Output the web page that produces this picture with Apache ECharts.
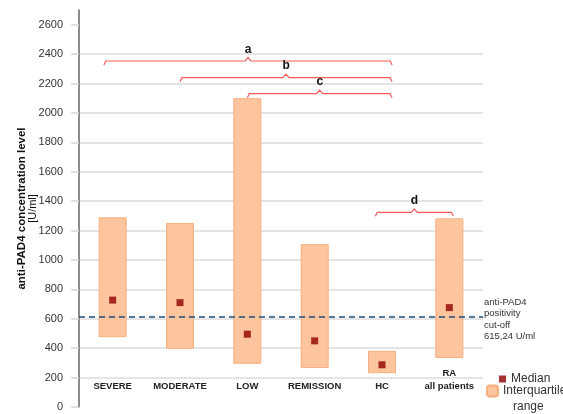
<!DOCTYPE html>
<html>
<head>
<meta charset="utf-8">
<script src="https://cdn.jsdelivr.net/npm/echarts@6/dist/echarts.min.js"></script>
<style>
  html, body { margin: 0; padding: 0; background: #fff; }
  #chart { width: 563px; height: 414px; }
</style>
</head>
<body>
<div id="chart"></div>
<script>
// anti-PAD4 concentration by disease activity group
const groups = ['SEVERE', 'MODERATE', 'LOW', 'REMISSION', 'HC', 'RA\nall patients'];
const q1 = [475, 396, 294, 265, 230, 333];          // lower quartile [U/ml]
const q3 = [1290, 1251, 2100, 1107, 382, 1283];     // upper quartile [U/ml]
const median = [727, 710, 495, 450, 287, 676];      // median [U/ml]
const cutoff = 615.24;                              // positivity cut-off [U/ml]
const yTicks = [0, 200, 400, 600, 800, 1000, 1200, 1400, 1600, 1800, 2000, 2200, 2400, 2600];

// significance brackets: letter, span in group positions, height [U/ml]
const bracketMarks = ['a', 'b', 'c', 'd'];
const bracketFrom = [-0.13, 1, 2, 3.9];
const bracketTo = [4.15, 4.15, 4.15, 5.06];
const bracketLevel = [2353, 2240, 2131, 1324];

const FONT = '"Liberation Sans", Arial, sans-serif';
const chart = echarts.init(document.getElementById('chart'), null, { renderer: 'canvas' });

const option = {
  animation: false,
  backgroundColor: '#fff',
  grid: { left: 79, right: 80, top: 10, bottom: 7, containLabel: false, outerBoundsMode: 'none' },
  xAxis: {
    type: 'category',
    data: groups,
    axisLine: { show: false },
    axisTick: { show: false },
    splitLine: { show: false },
    axisLabel: {
      interval: 0,
      margin: -14,
      verticalAlign: 'bottom',
      fontFamily: FONT,
      fontSize: 9.5,
      fontWeight: 'bold',
      lineHeight: 13,
      color: '#222'
    }
  },
  yAxis: {
    type: 'value',
    min: 0,
    max: 2700,
    interval: 200,
    name: '{b|anti-PAD4 concentration level}\n{n|[U/ml]}',
    nameLocation: 'middle',
    nameRotate: 90,
    nameGap: 41,
    nameMoveOverlap: false,
    nameTextStyle: {
      rich: {
        b: { fontFamily: FONT, fontSize: 11.5, fontWeight: 'bold', color: '#111', lineHeight: 11 },
        n: { fontFamily: FONT, fontSize: 11, color: '#111', lineHeight: 11 }
      }
    },
    axisLine: { show: true, lineStyle: { color: '#666', width: 1.5 } },
    axisTick: { show: true, length: 8, customValues: yTicks, lineStyle: { color: '#d6d6d6', width: 1.5 } },
    axisLabel: {
      customValues: yTicks,
      margin: 16,
      fontFamily: FONT,
      fontSize: 11,
      color: '#333',
      formatter: (v) => String(v)
    },
    splitLine: { show: true, showMinLine: false, showMaxLine: false, lineStyle: { color: '#dcdcdc', width: 1.5 } }
  },
  legend: [
    {
      data: [{ name: 'Median' }],
      left: 499,
      top: 373,
      padding: 0,
      itemWidth: 7,
      itemHeight: 7,
      selectedMode: false,
      textStyle: { fontFamily: FONT, fontSize: 12, color: '#333' }
    },
    {
      data: [{ name: 'Interquartile range' }],
      left: 486,
      top: 369,
      padding: 0,
      itemWidth: 11,
      itemHeight: 11,
      selectedMode: false,
      formatter: () => '{s| }\n{a|Interquartile}\n{r|range}',
      textStyle: {
        fontFamily: FONT,
        fontSize: 12,
        color: '#333',
        rich: {
          s: { fontFamily: FONT, fontSize: 12, lineHeight: 16 },
          a: { fontFamily: FONT, fontSize: 12, color: '#333', lineHeight: 16 },
          r: { fontFamily: FONT, fontSize: 12, color: '#333', lineHeight: 16, padding: [0, 0, 0, 10] }
        }
      }
    }
  ],
  series: [
    {
      name: 'base',
      type: 'bar',
      stack: 'iqr',
      barWidth: 28,
      silent: true,
      itemStyle: { color: 'transparent' },
      emphasis: { disabled: true },
      data: q1
    },
    {
      name: 'Interquartile range',
      type: 'bar',
      stack: 'iqr',
      barWidth: 28,
      itemStyle: { color: '#fdc59d', borderColor: '#f7ae80', borderWidth: 1 },
      emphasis: { disabled: true },
      data: q3.map((v, i) => v - q1[i])
    },
    {
      name: 'Median',
      type: 'scatter',
      symbol: 'rect',
      symbolSize: 7,
      z: 5,
      itemStyle: { color: '#8e0000' },
      data: median,
      markLine: {
        silent: true,
        symbol: ['none', 'none'],
        lineStyle: { type: [6, 4], color: '#1f4e79', width: 1.5 },
        label: {
          show: true,
          position: 'end',
          distance: 1,
          offset: [0, 3],
          fontFamily: FONT,
          fontSize: 9.5,
          lineHeight: 11.5,
          color: '#333',
          align: 'left',
          formatter: () => 'anti-PAD4\npositivity\ncut-off\n' + String(cutoff).replace('.', ',') + ' U/ml'
        },
        data: [{ yAxis: cutoff }]
      }
    },
    {
      name: 'brackets',
      type: 'custom',
      silent: true,
      z: 6,
      data: bracketLevel.map((v) => [0, v]),
      renderItem: (params, api) => {
        const k = params.dataIndex;
        const y = api.coord([0, api.value(1)])[1];
        const x0 = api.coord([0, 0])[0];
        const bw = api.size([1, 0])[0];
        const xa = x0 + bracketFrom[k] * bw;
        const xb = x0 + bracketTo[k] * bw;
        const xm = (xa + xb) / 2;
        return {
          type: 'group',
          children: [
            {
              type: 'polyline',
              shape: { points: [[xa, y + 4], [xa + 2, y], [xm - 3, y], [xm, y - 3.5], [xm + 3, y], [xb - 2, y], [xb, y + 4]] },
              style: { stroke: '#ff5a5a', lineWidth: 1.2, fill: null }
            },
            {
              type: 'text',
              x: xm,
              y: y - 11.5,
              style: {
                text: bracketMarks[k],
                font: 'bold 12px ' + FONT,
                fill: '#111',
                align: 'center',
                verticalAlign: 'middle'
              }
            }
          ]
        };
      }
    }
  ]
};

chart.setOption(option);
</script>
</body>
</html>
